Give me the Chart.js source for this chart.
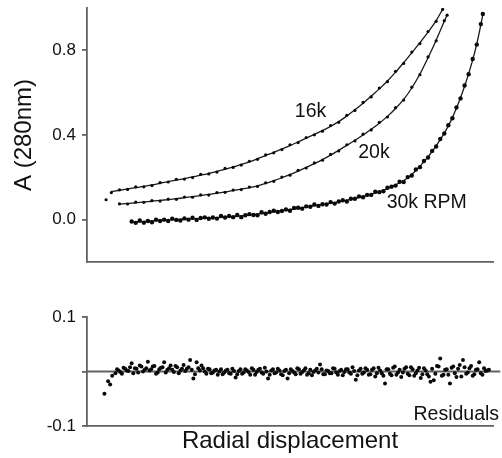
<!DOCTYPE html>
<html>
<head>
<meta charset="utf-8">
<script src="https://cdn.jsdelivr.net/npm/chart.js@4.4.1/dist/chart.umd.min.js"></script>
<style>
  html, body { margin: 0; padding: 0; background: #fff; }
  #wrap { position: relative; width: 502px; height: 458px; }
  canvas { position: absolute; left: 0; }
  #topChart { top: 0; }
  #resChart { top: 275px; }
</style>
</head>
<body>
<div id="wrap">
  <canvas id="topChart" width="502" height="275"></canvas>
  <canvas id="resChart" width="502" height="183"></canvas>
</div>
<script>
// tick values
const yTicksTop = [0, 0.4, 0.8];
const yTicksRes = [-0.1, 0, 0.1];

// 16k rpm scan (first point is the low outlier, no fit there)
const x16 = [4.7, 6, 8, 10, 12, 14, 16, 18, 20, 22, 24, 26, 28, 30, 32, 34, 36, 38, 40, 42, 44, 46, 48, 50, 52, 54, 56, 58, 60, 62, 64, 66, 68, 70, 72, 74, 76, 78, 80, 82, 84, 86, 87.6];
const obs16 = [0.094, 0.128, 0.141, 0.143, 0.155, 0.155, 0.161, 0.175, 0.178, 0.191, 0.192, 0.199, 0.214, 0.216, 0.225, 0.242, 0.247, 0.258, 0.276, 0.285, 0.306, 0.316, 0.331, 0.354, 0.364, 0.388, 0.401, 0.418, 0.445, 0.460, 0.493, 0.516, 0.554, 0.580, 0.622, 0.652, 0.701, 0.738, 0.792, 0.832, 0.889, 0.937, 0.993];
const fit16 = [null, 0.133, 0.139, 0.145, 0.151, 0.157, 0.164, 0.172, 0.180, 0.187, 0.194, 0.202, 0.210, 0.218, 0.228, 0.238, 0.249, 0.261, 0.273, 0.288, 0.303, 0.318, 0.334, 0.350, 0.367, 0.385, 0.403, 0.421, 0.441, 0.463, 0.490, 0.519, 0.550, 0.584, 0.618, 0.655, 0.697, 0.742, 0.788, 0.836, 0.886, 0.940, 0.995];

// 20k rpm scan
const x20 = [8, 10, 12, 14, 16, 18, 20, 22, 24, 26, 28, 30, 32, 34, 36, 38, 40, 42, 44, 46, 48, 50, 52, 54, 56, 58, 60, 62, 64, 66, 68, 70, 72, 74, 76, 78, 80, 82, 84, 86, 88, 88.7];
const obs20 = [0.075, 0.074, 0.083, 0.082, 0.090, 0.088, 0.097, 0.096, 0.107, 0.106, 0.117, 0.116, 0.128, 0.129, 0.140, 0.142, 0.154, 0.157, 0.174, 0.181, 0.201, 0.210, 0.233, 0.244, 0.268, 0.281, 0.308, 0.325, 0.354, 0.372, 0.404, 0.424, 0.460, 0.485, 0.529, 0.565, 0.626, 0.685, 0.769, 0.845, 0.940, 0.966];
const fit20 = [0.073, 0.077, 0.080, 0.084, 0.087, 0.091, 0.095, 0.099, 0.104, 0.109, 0.114, 0.119, 0.125, 0.131, 0.137, 0.144, 0.151, 0.160, 0.171, 0.184, 0.198, 0.213, 0.229, 0.247, 0.265, 0.284, 0.305, 0.328, 0.351, 0.375, 0.400, 0.427, 0.456, 0.488, 0.525, 0.568, 0.622, 0.688, 0.765, 0.848, 0.937, 0.968];

// 30k rpm scan
const x30 = [11, 12, 13, 14, 15, 16, 17, 18, 19, 20, 21, 22, 23, 24, 25, 26, 27, 28, 29, 30, 31, 32, 33, 34, 35, 36, 37, 38, 39, 40, 41, 42, 43, 44, 45, 46, 47, 48, 49, 50, 51, 52, 53, 54, 55, 56, 57, 58, 59, 60, 61, 62, 63, 64, 65, 66, 67, 68, 69, 70, 71, 72, 73, 74, 75, 76, 77, 78, 79, 80, 81, 82, 83, 84, 85, 86, 87, 88, 89, 90, 91, 92, 93, 94, 95, 96, 97, 97.5];
const obs30 = [-0.009, -0.015, -0.004, -0.014, -0.006, -0.012, 0.000, -0.006, 0.000, -0.006,
  0.005, -0.001, -0.004, 0.006, 0.000, 0.009, -0.001, 0.008, 0.011, 0.004,
  0.010, 0.005, 0.017, 0.010, 0.017, 0.012, 0.022, 0.012, 0.021, 0.026,
  0.022, 0.021, 0.035, 0.028, 0.036, 0.042, 0.036, 0.041, 0.048, 0.042,
  0.055, 0.056, 0.052, 0.063, 0.061, 0.072, 0.065, 0.073, 0.072, 0.083,
  0.076, 0.086, 0.092, 0.086, 0.099, 0.099, 0.110, 0.106, 0.117, 0.117,
  0.132, 0.130, 0.134, 0.151, 0.156, 0.161, 0.179, 0.178, 0.201, 0.209,
  0.237, 0.248, 0.277, 0.294, 0.325, 0.346, 0.381, 0.407, 0.446, 0.479,
  0.530, 0.573, 0.634, 0.687, 0.759, 0.827, 0.924, 0.972];
const fit30 = [-0.013, -0.012, -0.010, -0.009, -0.008, -0.006, -0.005, -0.004, -0.003, -0.002,
  -0.001, 0.000, 0.001, 0.002, 0.003, 0.004, 0.005, 0.006, 0.007, 0.008,
  0.009, 0.010, 0.011, 0.012, 0.014, 0.015, 0.017, 0.018, 0.020, 0.022,
  0.024, 0.026, 0.029, 0.031, 0.034, 0.037, 0.040, 0.042, 0.045, 0.048,
  0.051, 0.054, 0.057, 0.060, 0.063, 0.066, 0.069, 0.072, 0.075, 0.078,
  0.081, 0.084, 0.088, 0.092, 0.096, 0.100, 0.105, 0.110, 0.115, 0.120,
  0.126, 0.132, 0.139, 0.147, 0.155, 0.164, 0.174, 0.184, 0.198, 0.214,
  0.232, 0.252, 0.274, 0.297, 0.322, 0.349, 0.378, 0.409, 0.443, 0.482,
  0.527, 0.576, 0.630, 0.690, 0.755, 0.830, 0.920, 0.970];

// residuals
const resX1 = [4.3, 5.2, 5.7, 6.2, 7.0, 7.8, 8.6, 9.4, 10.2, 11.0, 11.8, 12.6, 13.4, 14.2, 15.0, 15.8, 16.6, 17.4, 18.2, 19.0, 19.8, 20.6, 21.4, 22.2, 23.0, 23.8, 24.6, 25.4, 26.2, 27.0, 27.8, 28.6, 29.4, 30.2, 31.0, 31.8, 32.6, 33.4, 34.2, 35.0, 35.8, 36.6, 37.4, 38.2, 39.0, 39.8, 40.6, 41.4, 42.2, 43.0, 43.8, 44.6, 45.4, 46.2, 47.0, 47.8, 48.6, 49.4, 50.2, 51.0, 51.8, 52.6, 53.4, 54.2, 55.0, 55.8, 56.6, 57.4, 58.2, 59.0, 59.8, 60.6, 61.4, 62.2, 63.0, 63.8, 64.6, 65.4, 66.2, 67.0, 67.8, 68.6, 69.4, 70.2, 71.0, 71.8, 72.6, 73.4, 74.2, 75.0, 75.8, 76.6, 77.4, 78.2, 79.0, 79.8, 80.6, 81.4, 82.2, 83.0, 83.8, 84.6, 85.4, 86.2, 87.0, 87.8, 88.6, 89.4, 90.2, 91.0, 91.8, 92.6, 93.4, 94.2, 95.0, 95.8, 96.6, 97.4, 98.2, 99.0];
const resY1 = [-0.041, -0.018, -0.024, -0.008, -0.003, 0.002, -0.004, 0.005, 0.001, 0.015,
  0.006, -0.002, 0.009, 0.003, 0.018, 0.004, 0.010, -0.002, 0.007, 0.017,
  0.003, 0.011, -0.001, 0.008, 0.002, 0.012, 0.005, 0.021, -0.013, 0.017,
  0.002, 0.006, -0.004, 0.004, -0.002, 0.003, 0.000, -0.005, 0.002, -0.003,
  0.005, -0.011, 0.001, -0.004, 0.004, -0.001, 0.006, -0.006, 0.003, -0.002,
  0.007, -0.013, 0.002, -0.003, 0.005, -0.005, 0.001, -0.013, 0.004, -0.002,
  0.006, -0.004, 0.002, -0.006, 0.003, -0.001, 0.005, 0.013, -0.005, 0.002,
  -0.003, 0.006, -0.002, 0.001, -0.007, 0.004, -0.002, 0.008, -0.015, 0.002,
  -0.004, 0.006, -0.006, 0.003, -0.009, 0.007, -0.003, -0.022, 0.004, -0.007,
  0.009, -0.002, -0.010, 0.005, -0.004, 0.008, -0.008, 0.002, -0.012, 0.006,
  -0.005, -0.019, -0.016, 0.010, 0.024, -0.006, 0.004, -0.022, 0.009, -0.010,
  0.012, 0.021, -0.004, 0.006, -0.008, 0.003, 0.017, -0.006, 0.001, 0.003];
const resX2 = [7.4, 8.2, 9.0, 9.8, 10.6, 11.4, 12.2, 13.0, 13.8, 14.6, 15.4, 16.2, 17.0, 17.8, 18.6, 19.4, 20.2, 21.0, 21.8, 22.6, 23.4, 24.2, 25.0, 25.8, 26.6, 27.4, 28.2, 29.0, 29.8, 30.6, 31.4, 32.2, 33.0, 33.8, 34.6, 35.4, 36.2, 37.0, 37.8, 38.6, 39.4, 40.2, 41.0, 41.8, 42.6, 43.4, 44.2, 45.0, 45.8, 46.6, 47.4, 48.2, 49.0, 49.8, 50.6, 51.4, 52.2, 53.0, 53.8, 54.6, 55.4, 56.2, 57.0, 57.8, 58.6, 59.4, 60.2, 61.0, 61.8, 62.6, 63.4, 64.2, 65.0, 65.8, 66.6, 67.4, 68.2, 69.0, 69.8, 70.6, 71.4, 72.2, 73.0, 73.8, 74.6, 75.4, 76.2, 77.0, 77.8, 78.6, 79.4, 80.2, 81.0, 81.8, 82.6, 83.4, 84.2, 85.0, 85.8, 86.6, 87.4, 88.2, 89.0, 89.8, 90.6, 91.4, 92.2, 93.0, 93.8, 94.6, 95.4, 96.2, 97.0, 97.8, 98.6];
const resY2 = [0.004, -0.001, 0.007, 0.002, 0.008, -0.003, 0.005, 0.011, 0.000, 0.006,
  0.002, 0.009, -0.004, 0.004, 0.008, -0.002, 0.006, 0.003, 0.010, -0.003,
  0.005, 0.001, 0.008, 0.003, -0.005, 0.006, 0.011, 0.000, 0.005, -0.003,
  0.002, -0.006, 0.004, -0.002, 0.003, -0.004, 0.001, -0.005, 0.004, -0.002,
  0.002, -0.006, 0.003, -0.001, 0.005, -0.004, 0.000, -0.006, 0.004, -0.002,
  0.002, -0.007, 0.003, -0.003, 0.001, -0.005, 0.004, -0.001, 0.006, -0.003,
  -0.007, 0.002, -0.002, 0.004, -0.005, 0.001, -0.003, 0.005, -0.006, 0.003,
  -0.001, 0.004, -0.004, 0.001, -0.007, 0.005, -0.002, 0.003, -0.005, 0.006,
  -0.003, 0.002, -0.008, 0.004, -0.004, 0.007, -0.006, 0.003, -0.002, 0.008,
  -0.007, 0.004, -0.003, 0.007, -0.005, 0.002, -0.009, 0.005, -0.004, 0.009,
  -0.008, 0.003, -0.006, 0.007, -0.003, 0.005, -0.009, 0.008, -0.002, 0.010,
  -0.005, 0.004, -0.003, 0.006, 0.002];

// zero reference line of the residual panel
const zeroLineX = [0, 101.8];
const zeroLineY = [0, 0];

const FONT = "'Liberation Sans', Arial, Helvetica, sans-serif";
const AXIS = "#626262";
const INK = "#111";
Chart.defaults.font.family = FONT;
Chart.defaults.color = INK;

const pts = (xs, ys) => xs.map((x, i) => ({ x: x, y: ys[i] }));

// text placed in data coordinates
function textMarks(id, items) {
  return {
    id: id,
    afterDatasetsDraw(chart) {
      const { ctx, scales } = chart;
      ctx.save();
      ctx.fillStyle = INK;
      ctx.font = "19.5px " + FONT;
      ctx.textBaseline = "alphabetic";
      items.forEach(it => {
        ctx.textAlign = it.align || "left";
        ctx.fillText(it.text, scales.x.getPixelForValue(it.x), scales.y.getPixelForValue(it.y));
      });
      ctx.restore();
    }
  };
}

const dots = (xs, ys, r) => ({
  data: pts(xs, ys), showLine: false, pointRadius: r, pointHoverRadius: r,
  backgroundColor: "#0a0a0a", borderWidth: 0
});
const fitLine = (xs, ys) => ({
  data: pts(xs, ys), showLine: true, pointRadius: 0, borderColor: "#1a1a1a",
  borderWidth: 1.3, cubicInterpolationMode: "monotone", spanGaps: false
});

const yAxisBase = {
  type: "linear",
  afterFit: s => { s.width = 87; s.paddingTop = 0; s.paddingBottom = 0; },
  grid: { display: true, drawOnChartArea: false, drawTicks: true, tickLength: 5, color: AXIS, lineWidth: 1.8 },
  border: { display: true, color: AXIS, width: 1.8 },
  ticks: { font: { size: 17 }, color: INK, padding: 6 }
};

new Chart(document.getElementById("topChart"), {
  type: "scatter",
  data: {
    datasets: [
      dots(x16, obs16, 1.6), fitLine(x16, fit16),
      dots(x20, obs20, 1.6), fitLine(x20, fit20),
      dots(x30, obs30, 2.2), fitLine(x30, fit30)
    ]
  },
  options: {
    responsive: false,
    animation: false,
    events: [],
    layout: { padding: { left: 0, right: 9, top: 8, bottom: 13 } },
    plugins: { legend: { display: false }, tooltip: { enabled: false } },
    scales: {
      x: {
        type: "linear", min: 0, max: 100,
        afterFit: s => { s.height = 0; },
        ticks: { display: false },
        grid: { display: false },
        border: { display: true, color: AXIS, width: 1.8 }
      },
      y: Object.assign({}, yAxisBase, {
        min: -0.2, max: 1.0,
        afterBuildTicks: s => { s.ticks = yTicksTop.map(v => ({ value: v })); },
        ticks: Object.assign({}, yAxisBase.ticks, { callback: v => v.toFixed(1) }),
        title: { display: true, text: "A (280nm)", font: { size: 24 }, color: INK, padding: { top: 10, bottom: 0 } }
      })
    }
  },
  plugins: [textMarks("curveLabels", [
    { text: "16k", x: 51.2, y: 0.485 },
    { text: "20k", x: 66.8, y: 0.292 },
    { text: "30k RPM", x: 73.8, y: 0.056 }
  ])]
});

new Chart(document.getElementById("resChart"), {
  type: "scatter",
  data: {
    datasets: [
      dots(resX1, resY1, 2),
      dots(resX2, resY2, 2),
      {
        data: pts(zeroLineX, zeroLineY), showLine: true, pointRadius: 0,
        borderColor: AXIS, borderWidth: 1.8, clip: false
      }
    ]
  },
  options: {
    responsive: false,
    animation: false,
    events: [],
    layout: { padding: { left: 0, right: 9, top: 42, bottom: 2 } },
    plugins: { legend: { display: false }, tooltip: { enabled: false } },
    scales: {
      x: {
        type: "linear", min: 0, max: 100,
        afterFit: s => { s.height = 30; },
        ticks: { display: false },
        grid: { display: false },
        border: { display: true, color: AXIS, width: 1.8 },
        title: { display: true, text: "Radial displacement", font: { size: 24 }, color: INK, padding: { top: 0, bottom: 0 } }
      },
      y: Object.assign({}, yAxisBase, {
        min: -0.1, max: 0.1,
        afterBuildTicks: s => { s.ticks = yTicksRes.map(v => ({ value: v })); },
        ticks: Object.assign({}, yAxisBase.ticks, { callback: v => (v === 0 ? "" : v.toFixed(1)) })
      })
    }
  },
  plugins: [textMarks("residualLabel", [
    { text: "Residuals", x: 101.5, y: -0.089, align: "right" }
  ])]
});
</script>
</body>
</html>
